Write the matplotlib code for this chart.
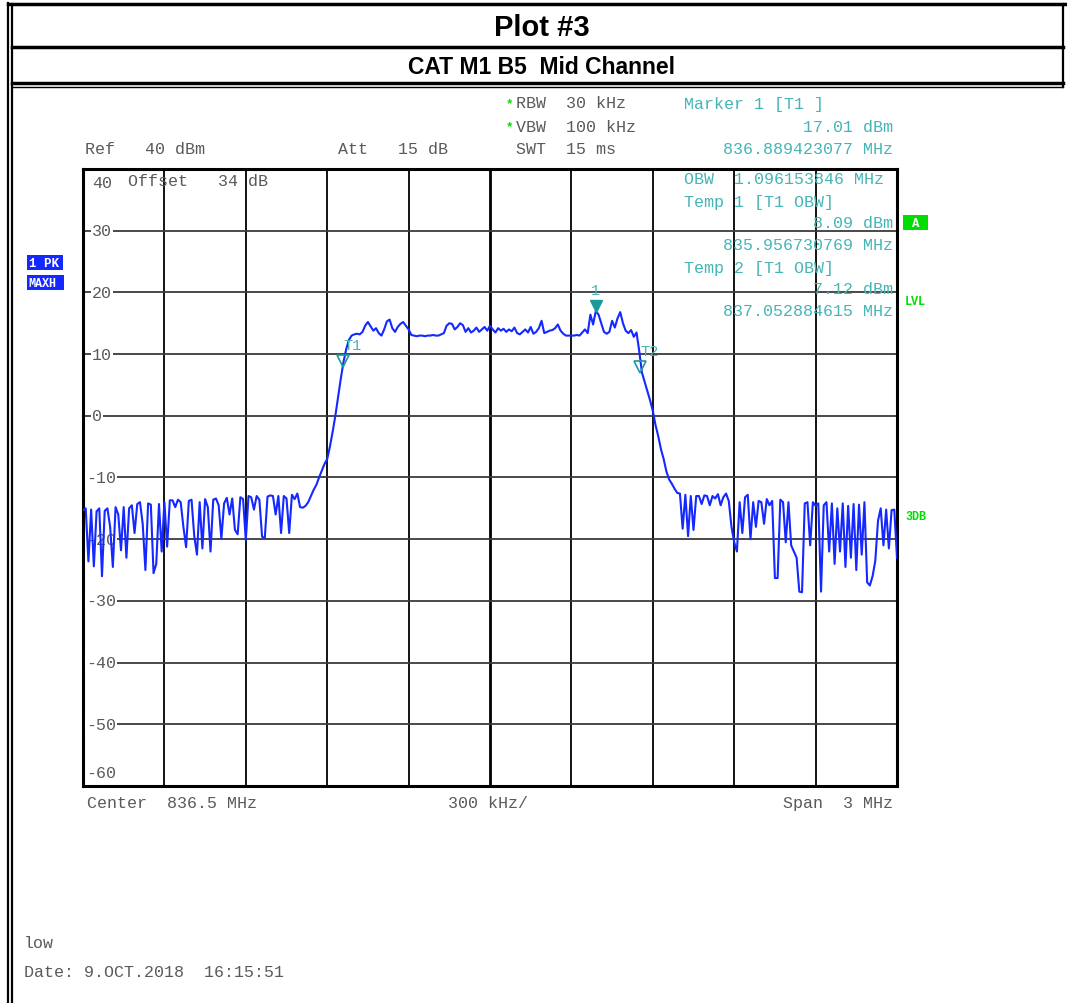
import numpy as np
import matplotlib
matplotlib.use("Agg")
import matplotlib.pyplot as plt
from matplotlib.lines import Line2D
from matplotlib.patches import Rectangle
import matplotlib.transforms as mtransforms

# ---------------- data ----------------
start_mhz = 835.0
stop_mhz = 838.0
center_mhz = 836.5
ref_level = 40
bottom_level = -60

noise_left = [-15.3, -15.0, -23.6, -15.2, -24.4, -15.5, -15.0, -26.0, -15.4, -15.0,
              -18.0, -24.5, -14.8, -16.0, -21.8, -14.8, -23.0, -15.0, -14.5, -19.0,
              -14.3, -14.0, -17.5, -25.0, -14.2, -14.4, -25.5, -24.0, -14.3, -22.0,
              -14.0, -21.2, -13.7, -13.7, -14.8, -13.6, -14.0, -18.0, -21.3, -13.8,
              -13.6, -19.5, -22.5, -14.0, -21.5, -13.5, -14.8, -22.0, -13.6, -13.4,
              -14.5, -19.9, -14.2, -13.3, -16.0, -13.4, -18.5, -19.2, -13.2, -13.5,
              -20.2, -13.0, -13.2, -15.2, -13.0, -13.6, -19.6, -19.8, -13.1, -12.9,
              -13.0, -16.0, -13.0, -19.0, -13.0, -13.4, -19.0, -12.8, -13.5, -12.6]

channel = [-14.8, -14.9, -14.6, -14.0, -13.0, -12.0, -11.2, -10.0, -8.9, -7.8,
           -7.0, -5.0, -2.6, 0.0, 3.0, 6.0, 8.7, 10.8, 12.3, 13.0,
           13.2, 13.3, 13.2, 13.6, 14.6, 15.2, 14.5, 13.8, 14.2, 13.4,
           13.0, 14.0, 15.3, 15.6, 14.2, 13.6, 14.4, 14.9, 15.2, 14.6,
           14.0, 13.1, 13.0, 12.9, 13.0, 13.0, 12.9, 13.0, 13.0, 13.1,
           13.0, 13.0, 13.2, 13.4, 14.6, 15.0, 14.9, 14.0, 14.4, 15.0,
           14.7, 13.6, 14.2, 13.5, 13.8, 14.3, 13.6, 14.0, 14.4, 13.8,
           14.6, 14.0, 13.5, 14.2, 13.8, 14.1, 13.6, 14.0, 13.7, 14.3,
           13.4, 13.2, 13.6, 14.0, 13.5, 14.4, 13.3, 13.6, 14.2, 15.4,
           13.4, 13.6, 13.8, 13.9, 14.2, 14.8, 13.8, 13.3, 13.0, 13.0,
           13.0, 13.0, 13.1, 13.0, 13.5, 14.0, 13.4, 16.4, 14.8, 17.0,
           16.4, 15.0, 13.6, 13.3, 13.6, 15.4, 14.3, 15.8, 16.8, 15.0,
           13.8, 13.4, 13.9, 12.8, 13.5, 10.5, 7.0, 5.5, 4.0, 2.5,
           0.8, -1.5, -3.3, -5.4, -7.0, -9.0, -10.3, -11.0, -11.8, -12.5,
           -12.6]

noise_right = [-18.3, -12.8, -19.5, -13.0, -18.5, -13.0, -13.0, -14.3, -12.9, -13.0,
               -14.5, -13.0, -13.4, -12.7, -14.5, -13.2, -12.6, -13.8, -18.0, -20.5,
               -22.0, -14.0, -19.0, -13.2, -12.8, -20.0, -14.0, -18.0, -13.8, -14.0,
               -17.5, -13.5, -14.5, -13.8, -26.3, -26.3, -13.6, -14.0, -20.5, -14.0,
               -21.0, -22.0, -23.0, -28.5, -28.6, -14.2, -14.0, -21.0, -14.0, -14.6,
               -14.2, -28.5, -14.5, -14.0, -22.0, -14.2, -24.0, -15.0, -22.0, -14.2,
               -24.5, -14.6, -23.0, -14.3, -25.0, -14.4, -22.5, -14.0, -27.0, -27.5,
               -26.0, -23.5, -17.0, -15.0, -21.0, -15.2, -21.5, -15.3, -15.2, -23.0]

levels_dbm = noise_left + channel + noise_right
freqs_mhz = np.linspace(start_mhz, stop_mhz, len(levels_dbm))

marker1 = (836.889423077, 17.01)
temp1 = (835.956730769, 8.09)
temp2 = (837.052884615, 7.12)

y_tick_values = [40, 30, 20, 10, 0, -10, -20, -30, -40, -50, -60]

# ---------------- layout ----------------
W, H = 1067, 1004
fig = plt.figure(figsize=(W / 100, H / 100), dpi=100)
fig.patch.set_facecolor("white")

def fx(x):
    return x / W

def fy(y):
    return 1 - y / H

MONO = "Liberation Mono"
GREY = "#5a5a5a"
TEAL = "#45b5b5"
GREEN = "#00dd00"
BLUE = "#1428ff"

def hline(y, x0, x1, lw):
    fig.add_artist(Line2D([fx(x0), fx(x1)], [fy(y), fy(y)], color="black", lw=lw,
                          transform=fig.transFigure))

def vline(x, y0, y1, lw):
    fig.add_artist(Line2D([fx(x), fx(x)], [fy(y0), fy(y1)], color="black", lw=lw,
                          transform=fig.transFigure))

hline(5, 8, 1067, 2.5)
hline(48, 12, 1063, 2.5)
hline(84, 12, 1063, 2.5)
hline(88, 12, 1063, 1.0)
vline(8, 4, 1004, 1.6)
vline(12, 5, 1004, 1.6)
vline(1063, 5, 88, 1.6)

title_family = ["Liberation Sans Narrow", "Liberation Sans", "DejaVu Sans"]
fig.text(fx(542), fy(28), "Plot #3", ha="center", va="center", fontsize=21,
         fontweight="bold", family=title_family)
fig.text(fx(542), fy(68), "CAT M1 B5  Mid Channel", ha="center", va="center",
         fontsize=16.5, fontweight="bold", family=title_family)

# ---------------- axes ----------------
ax_l, ax_r, ax_t, ax_b = 83, 897, 170, 787
ax = fig.add_axes([fx(ax_l), fy(ax_b), (ax_r - ax_l) / W, (ax_b - ax_t) / H])
ax.set_xlim(start_mhz, stop_mhz)
ax.set_ylim(bottom_level, ref_level)
ax.set_xticks([])
ax.set_yticks([])
for s in ax.spines.values():
    s.set_linewidth(2.2)
    s.set_color("black")

div = (stop_mhz - start_mhz) / 10
for k in range(1, 10):
    xv = start_mhz + k * div
    ax.axvline(xv, color="black", lw=2.0 if k == 5 else 1.3, zorder=1)
for yv in y_tick_values[1:-1]:
    ax.axhline(yv, color="#3a3a3a", lw=1.3, zorder=1)

label_tf = mtransforms.blended_transform_factory(fig.transFigure, ax.transData)
for yv in y_tick_values:
    if yv == ref_level:
        ypos, va = yv - 1.0, "top"
    elif yv == bottom_level:
        ypos, va = yv + 1.0, "bottom"
    else:
        ypos, va = yv, "center"
    xoff = 86 if yv < 0 else 92
    ax.text(fx(xoff), ypos, str(yv), transform=label_tf,
            ha="left", va=va, family=MONO, fontsize=12, color=GREY, zorder=3,
            bbox=None if yv in (ref_level, bottom_level) else dict(boxstyle="square,pad=0.05", fc="white", ec="none"))

ax.plot(freqs_mhz, levels_dbm, color=BLUE, lw=1.5, zorder=4)

# markers
ax.plot([marker1[0]], [marker1[1] + 0.8], marker="v", ms=8, color="#1a9a9a", zorder=5)
ax.text(marker1[0], marker1[1] + 2.3, "1", ha="center", va="bottom", family=MONO,
        fontsize=11, color=TEAL, zorder=5)
for (mf, ml), lab in ((temp1, "T1"), (temp2, "T2")):
    ax.plot([mf], [ml + 0.8], marker="v", ms=8, mfc="none", mec="#1a9a9a", mew=1.2, zorder=5)
    ax.text(mf + 0.035, ml + 2.3, lab, ha="center", va="bottom", family=MONO,
            fontsize=11, color=TEAL, zorder=5)

# ---------------- instrument text ----------------
def t(x, y, s, color=GREY, ha="left", size=12, weight="normal"):
    fig.text(fx(x), fy(y), s, ha=ha, va="center", family=MONO, fontsize=size,
             color=color, fontweight=weight)

t(85, 150, "Ref   40 dBm")
t(338, 150, "Att   15 dB")
t(506, 104, "*", color=GREEN, size=9, weight="bold")
t(516, 104, "RBW  30 kHz")
t(506, 127, "*", color=GREEN, size=9, weight="bold")
t(516, 127, "VBW  100 kHz")
t(516, 150, "SWT  15 ms")
t(128, 182, "Offset   34 dB")

t(684, 105, "Marker 1 [T1 ]", color=TEAL)
t(893, 127, "17.01 dBm", color=TEAL, ha="right")
t(893, 150, "836.889423077 MHz", color=TEAL, ha="right")
t(684, 180, "OBW  1.096153846 MHz", color=TEAL)
t(684, 202, "Temp 1 [T1 OBW]", color=TEAL)
t(893, 224, "8.09 dBm", color=TEAL, ha="right")
t(893, 246, "835.956730769 MHz", color=TEAL, ha="right")
t(684, 268, "Temp 2 [T1 OBW]", color=TEAL)
t(893, 290, "7.12 dBm", color=TEAL, ha="right")
t(893, 312, "837.052884615 MHz", color=TEAL, ha="right")

t(87, 804, "Center  836.5 MHz")
t(448, 804, "300 kHz/")
t(893, 804, "Span  3 MHz", ha="right")
t(24, 943, "low")
t(24, 973, "Date: 9.OCT.2018  16:15:51")

# side badges
fig.add_artist(Rectangle((fx(27), fy(271)), 36 / W, 15 / H, transform=fig.transFigure,
                         fc="#1428ff", ec="none"))
fig.add_artist(Rectangle((fx(27), fy(291)), 37 / W, 15 / H, transform=fig.transFigure,
                         fc="#1428ff", ec="none"))
t(29, 264, "1 PK", color="white", size=9, weight="bold")
t(28, 284, "MAXH", color="white", size=8.5, weight="bold")

fig.add_artist(Rectangle((fx(903), fy(231)), 25 / W, 15 / H, transform=fig.transFigure,
                         fc=GREEN, ec="none"))
t(915.5, 224, "A", color="white", ha="center", size=9, weight="bold")
t(905, 302, "LVL", color=GREEN, size=8.5, weight="bold")
t(905, 517, "3DB", color=GREEN, size=8.5, weight="bold")

fig.savefig("out.png", dpi=100, facecolor="white")
